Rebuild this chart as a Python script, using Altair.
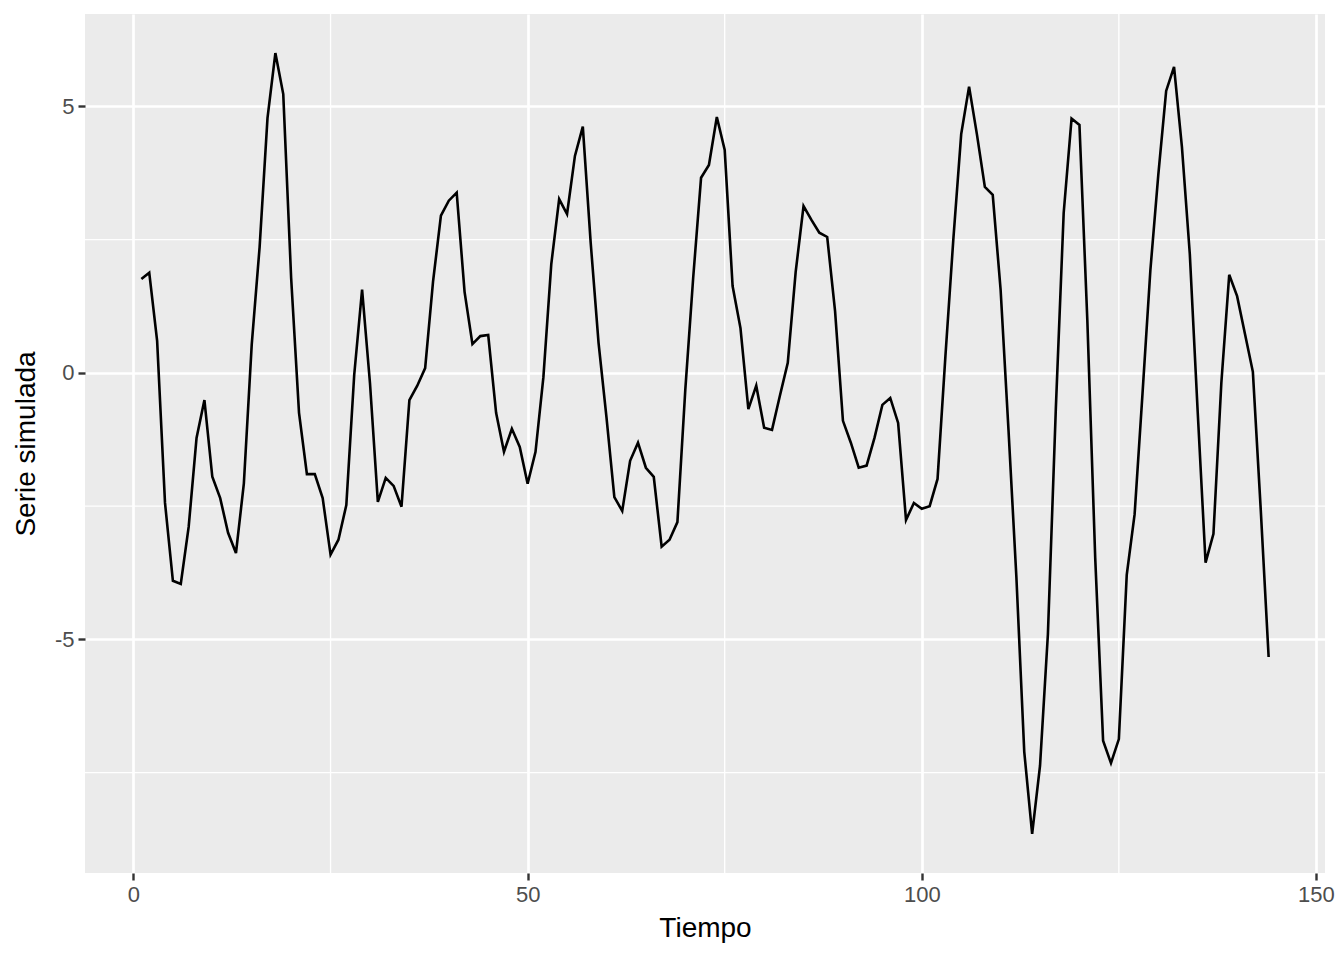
import altair as alt
import pandas as pd

tiempo = list(range(1, 145))
serie = [
    1.76, 1.88, 0.60, -2.44, -3.90, -3.96, -2.89, -1.22, -0.51, -1.95,
    -2.35, -3.00, -3.38, -2.08, 0.53, 2.36, 4.78, 6.00, 5.23, 1.78,
    -0.75, -1.90, -1.90, -2.35, -3.41, -3.13, -2.48, -0.04, 1.56, -0.19,
    -2.42, -1.97, -2.12, -2.51, -0.51, -0.24, 0.09, 1.71, 2.95, 3.23,
    3.38, 1.52, 0.54, 0.69, 0.71, -0.75, -1.48, -1.05, -1.39, -2.08,
    -1.48, -0.08, 2.04, 3.26, 2.98, 4.07, 4.62, 2.44, 0.56, -0.83,
    -2.33, -2.59, -1.65, -1.31, -1.78, -1.95, -3.26, -3.13, -2.80, -0.32,
    1.78, 3.66, 3.90, 4.80, 4.18, 1.63, 0.84, -0.68, -0.24, -1.03,
    -1.07, -0.43, 0.19, 1.89, 3.13, 2.87, 2.63, 2.55, 1.16, -0.90,
    -1.31, -1.78, -1.74, -1.22, -0.60, -0.47, -0.94, -2.76, -2.44, -2.55,
    -2.50, -1.99, 0.32, 2.50, 4.48, 5.37, 4.47, 3.49, 3.34, 1.56,
    -1.07, -3.83, -7.11, -8.65, -7.37, -4.90, -0.69, 3.00, 4.77, 4.65,
    0.99, -3.47, -6.90, -7.32, -6.87, -3.79, -2.65, -0.39, 1.93, 3.71,
    5.29, 5.74, 4.24, 2.23, -0.73, -3.56, -3.02, -0.19, 1.84, 1.44,
    0.73, 0.02, -2.57, -5.33,
]
x_ticks = [0, 50, 100, 150]
y_ticks = [-5, 0, 5]
x_minor = [25, 75, 125]
y_minor = [-7.5, -2.5, 2.5]

df = pd.DataFrame({"Tiempo": tiempo, "Serie": serie})

xr = max(tiempo) - min(tiempo)
yr = max(serie) - min(serie)
xdom = [min(tiempo) - 0.05 * xr, max(tiempo) + 0.05 * xr]
ydom = [min(serie) - 0.05 * yr, max(serie) + 0.05 * yr]

xscale = alt.Scale(domain=xdom, nice=False, zero=False)
yscale = alt.Scale(domain=ydom, nice=False, zero=False)

minor_x = alt.Chart(pd.DataFrame({"v": x_minor})).mark_rule(
    color="white", strokeWidth=1.35
).encode(x=alt.X("v:Q", scale=xscale))
minor_y = alt.Chart(pd.DataFrame({"v": y_minor})).mark_rule(
    color="white", strokeWidth=1.35
).encode(y=alt.Y("v:Q", scale=yscale))

line = alt.Chart(df).mark_line(color="black", strokeWidth=2.6).encode(
    x=alt.X(
        "Tiempo:Q",
        scale=xscale,
        title="Tiempo",
        axis=alt.Axis(values=x_ticks, labelExpr="'' + datum.value"),
    ),
    y=alt.Y(
        "Serie:Q",
        scale=yscale,
        title="Serie simulada",
        axis=alt.Axis(values=y_ticks, labelExpr="'' + datum.value"),
    ),
)

chart = (
    alt.layer(minor_x, minor_y, line)
    .properties(
        width=1240,
        height=859,
        autosize=alt.AutoSizeParams(type="none"),
        padding={"left": 77, "top": 6, "right": 11, "bottom": 70},
        background="white",
    )
    .configure_view(fill="#EBEBEB", stroke=None)
    .configure_axis(
        domain=False,
        grid=True,
        gridColor="white",
        gridWidth=2.7,
        tickColor="#333333",
        tickWidth=2.4,
        tickSize=7,
        labelColor="#4D4D4D",
        labelFont="Liberation Sans",
        labelFontSize=22,
        labelPadding=4,
        labelOverlap=False,
        labelBound=False,
        titleFont="Liberation Sans",
        titleFontSize=28,
        titleFontWeight="normal",
        titleColor="black",
    )
    .configure_axisX(titlePadding=9)
    .configure_axisY(titlePadding=14)
)

chart.save("out.html", embed_options={"renderer": "svg", "actions": False})
